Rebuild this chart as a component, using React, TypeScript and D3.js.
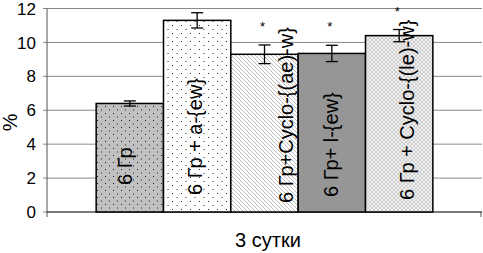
import * as d3 from "d3";

const labels = [
  "6 Гр",
  "6 Гр + a-{ew}",
  "6 Гр+Cyclo-{(ae)-w}",
  "6 Гр+ l-{ew}",
  "6 Гр + Cyclo-{(le)-w}",
];
const values = [6.4, 11.3, 9.3, 9.35, 10.4];
const errors = [0.15, 0.45, 0.55, 0.48, 0.36];
const starred = [false, false, true, true, true];
const yTicks = [0, 2, 4, 6, 8, 10, 12];
const xTitle = "3 сутки";
const yTitle = "%";

// look of each bar and where its (hand-placed) label sits, relative to the bar
const fills = ["url(#dotsGray)", "url(#dotsWhite)", "url(#diag)", "#969696", "url(#cross)"];
const labelDx = [-5, -2, 21, -1, 8];
const labelLift = [27, 17, 9, 15, 12];

const W = 483;
const H = 253;
const left = 47;
const right = 482;
const bottom = 212;
const top = 8.5;

export default function App() {
  const y = d3.scaleLinear().domain([0, 12]).range([bottom, top]);
  const x = d3
    .scaleBand<string>()
    .domain(labels)
    .range([left, right])
    .paddingInner(0)
    .paddingOuter(0.73);
  const bw = x.bandwidth();

  return (
    <svg
      width={W}
      height={H}
      style={{ position: "absolute", left: 0, top: 0, background: "#fff" }}
      fontFamily="Liberation Sans, Arial, sans-serif"
    >
      <defs>
        <pattern id="dotsGray" width="8" height="7" patternUnits="userSpaceOnUse">
          <rect width="8" height="7" fill="#c0c0c0" />
          <rect x="1" y="1" width="1" height="1" fill="#222" />
          <rect x="5" y="4.5" width="1" height="1" fill="#222" />
        </pattern>
        <pattern id="dotsWhite" width="9" height="8" patternUnits="userSpaceOnUse">
          <rect width="9" height="8" fill="#fff" />
          <rect x="1" y="1" width="1" height="1" fill="#222" />
          <rect x="5.5" y="5" width="1" height="1" fill="#222" />
        </pattern>
        <pattern id="diag" width="4" height="4" patternUnits="userSpaceOnUse">
          <rect width="4" height="4" fill="#fff" />
          <path d="M-1,-1 L5,5 M-1,3 L1,5 M3,-1 L5,1" stroke="#bdbdbd" strokeWidth="1" />
        </pattern>
        <pattern id="cross" width="4" height="4" patternUnits="userSpaceOnUse">
          <rect width="4" height="4" fill="#f2f2f2" />
          <path d="M0,0 L4,4 M4,0 L0,4" stroke="#c4c4c4" strokeWidth="0.8" />
        </pattern>
      </defs>

      {/* gridlines */}
      {yTicks.map((t) => (
        <g key={t}>
          <line x1={left - 4} x2={right} y1={y(t)} y2={y(t)} stroke="#8a8a8a" strokeWidth={1} />
          <text x={36} y={y(t)} dy="0.36em" textAnchor="end" fontSize={17} fill="#000">
            {t}
          </text>
        </g>
      ))}
      <line x1={left} x2={left} y1={top} y2={bottom} stroke="#555" strokeWidth={1} />
      <line x1={left} x2={left} y1={bottom} y2={bottom + 5} stroke="#555" strokeWidth={1} />
      <line x1={right - 1} x2={right - 1} y1={bottom} y2={bottom + 5} stroke="#555" strokeWidth={1} />
      <line x1={left} x2={right} y1={bottom} y2={bottom} stroke="#333" strokeWidth={1} />

      {/* bars */}
      {labels.map((l, i) => {
        const x0 = x(l)!;
        const cx = x0 + bw / 2;
        const v = values[i];
        const e = errors[i];
        return (
          <g key={l}>
            <rect
              x={x0}
              y={y(v)}
              width={bw}
              height={bottom - y(v)}
              fill={fills[i]}
              stroke="#000"
              strokeWidth={1.5}
            />
            <text
              transform={`translate(${cx + labelDx[i] + 7},${bottom - labelLift[i]}) rotate(-90)`}
              fontSize={20}
              fill="#000"
            >
              {l}
            </text>
            <line x1={cx} x2={cx} y1={y(v + e)} y2={y(v - e)} stroke="#000" strokeWidth={1.3} />
            <line x1={cx - 6} x2={cx + 6} y1={y(v + e)} y2={y(v + e)} stroke="#000" strokeWidth={1.3} />
            <line x1={cx - 6} x2={cx + 6} y1={y(v - e)} y2={y(v - e)} stroke="#000" strokeWidth={1.3} />
            {starred[i] && (
              <text x={cx - 2} y={y(v + e) - 14} textAnchor="middle" fontSize={13} fill="#000">
                *
              </text>
            )}
          </g>
        );
      })}

      <text x={268} y={247} textAnchor="middle" fontSize={20} fill="#000">
        {xTitle}
      </text>
      <text
        transform={`translate(17,${(top + bottom) / 2 + 12}) rotate(-90)`}
        textAnchor="middle"
        fontSize={20}
        fill="#000"
      >
        {yTitle}
      </text>
    </svg>
  );
}
